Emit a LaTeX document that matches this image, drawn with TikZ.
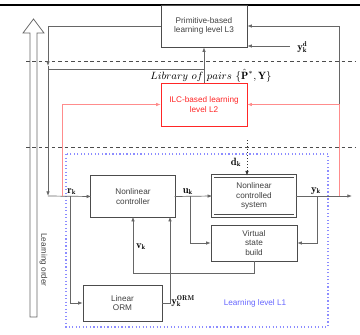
\documentclass[tikz,border=0pt]{standalone}
\usepackage{fontspec}
\setsansfont{Liberation Sans}
\usepackage{amsmath}
\usepackage{tikz}
\usetikzlibrary{arrows.meta,calc,positioning}

\begin{document}
\begin{tikzpicture}[x=0.03cm,y=-0.03cm,
  box/.style={draw=black!70,font=\sffamily\scriptsize,text=black!75,align=center,inner sep=1pt},
  dbox/.style={box,double,double distance=1.6pt,line width=0.6pt},
  gline/.style={draw=black!60,line width=0.6pt},
  rline/.style={draw=red!45,line width=0.6pt},
  arr/.style={-{Latex[length=4pt,width=3pt]}},
  lbl/.style={font=\small,inner sep=1pt}]
\useasboundingbox (0,0) rectangle (360,335);
\draw[line width=1.5pt] (0,5) -- (360,5);
\node[box,minimum width=2.58cm,minimum height=1.26cm] (lthree) at (204,26) {Primitive-based\\learning level L3};
\node[box,draw=red!85,text=red!85,minimum width=2.58cm,minimum height=1.29cm] (ltwo) at (204,104.5) {ILC-based learning\\level L2};
\node[dbox,minimum width=2.48cm,minimum height=1.19cm] (ctrl) at (133,196.5) {Nonlinear\\controller};
\node[dbox,minimum width=2.48cm,minimum height=1.2cm] (plant) at (254,196) {Nonlinear\\controlled\\system};
\node[box,minimum width=2.58cm,minimum height=1.08cm] (vsb) at (254,243) {Virtual\\state\\build};
\node[box,minimum width=2.37cm,minimum height=1.08cm] (orm) at (122.5,303) {Linear\\ORM};
\node[lbl,inner sep=0pt] (lib) at (211,75.5) {$Library\ of\ pairs\ \{\hat{\mathbf{P}}^*,\mathbf{Y}\}$};
\coordinate (tl) at (48,26);
\coordinate (rk) at (48,196);
\coordinate (yout) at (352,196);
\coordinate (ytap) at (339,196);
\coordinate (yd) at (290,46);
\coordinate (dk) at (247,140);
\draw[black!70,dashed,dash pattern=on 3pt off 2.5pt,line width=0.6pt] (26,61) -- (356,61);
\draw[black!70,dashed,dash pattern=on 3pt off 2.5pt,line width=0.6pt] (26,147) -- (356,147);
\draw[blue!45,dotted,line width=1pt] (66,154) rectangle (328,327);
\node[font=\sffamily\scriptsize,text=blue!60] (lone) at (255,303) {Learning level L1};
\draw[gline] (30,317) -- (30,33) -- (23,33) -- (33.5,19) -- (44,33) -- (37,33) -- (37,317) -- cycle;
\node[font=\sffamily\scriptsize,text=black!75,rotate=-90] (lorder) at (43.5,260) {Learning order};
\draw[gline,arr] (lthree.west) -- (tl) -- (48,66);
\draw[gline,arr] (48,66) -- (rk);
\draw[gline] (48,69) -- (204,69);
\draw[gline,arr] (ltwo.north) -- (lthree.south);
\draw[gline,arr] (rk) -- node[lbl,above,pos=0.55] {$\mathbf{r_k}$} (ctrl.west);
\draw[rline,arr] (62,196) |- (ltwo.west);
\draw[gline,arr] (70,196) |- (orm.west);
\draw[gline,arr] (ctrl.east) -- node[lbl,above,pos=0.35] {$\mathbf{u_k}$} (plant.west);
\draw[gline,arr] (190,196) |- (vsb.west);
\draw[gline,arr] (plant.east) -- node[lbl,above,pos=0.36] {$\mathbf{y_k}$} (yout);
\draw[gline,arr] (317,196) |- (vsb.east);
\draw[gline,arr] (vsb.south) -- (254,273) -| (ctrl.south);
\node[lbl] (vk) at (141,247) {$\mathbf{v_k}$};
\draw[gline,arr] (orm.east) -- (170,303) -- (170,303 |- ctrl.south);
\node[lbl,anchor=west] (yorm) at (170,301) {$\mathbf{y_k^{ORM}}$};
\draw[rline,arr] (ytap) |- (ltwo.east);
\draw[gline,arr] (339,104) |- (lthree.east);
\draw[gline,arr] (yd) -- (lthree.east |- yd);
\node[lbl,anchor=west] (ydes) at (296,47) {$\mathbf{y_k^d}$};
\draw[black!80,dotted,line width=0.6pt,arr] (dk) -- (dk |- plant.north);
\node[lbl] (dklbl) at (236,162) {$\mathbf{d_k}$};
\end{tikzpicture}
\end{document}
